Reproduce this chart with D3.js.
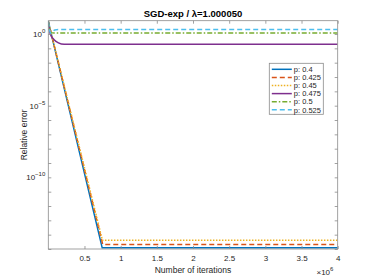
<!DOCTYPE html>
<html>
<head>
<meta charset="utf-8">
<script src="https://cdn.jsdelivr.net/npm/d3@7"></script>
<style>
body { margin: 0; background: #fff; }
svg { display: block; font-family: "Liberation Sans", Arial, sans-serif; }
</style>
</head>
<body>
<svg id="chart" width="374" height="280"></svg>
<script>
// values: [iterations, relative error]
var seriesNames = ['p: 0.4', 'p: 0.425', 'p: 0.45', 'p: 0.475', 'p: 0.5', 'p: 0.525'];
var p0400 = [[0, 7.5], [745000, 1.2e-15], [4000000, 1.2e-15]];
var p0425 = [[0, 7.5], [752000, 2.1e-15], [4000000, 2.1e-15]];
var p0450 = [[0, 7.5], [748000, 4.0e-15], [4000000, 4.0e-15]];
var p0475 = [[0, 7.5], [25000, 1.1], [80000, 0.4], [140000, 0.24], [220000, 0.19], [4000000, 0.19]];
var p0500 = [[0, 7.5], [30000, 1.3], [80000, 1.17], [4000000, 1.17]];
var p0525 = [[0, 7.5], [35000, 1.1], [90000, 1.9], [150000, 2.05], [4000000, 2.05]];
var seriesData = [p0400, p0425, p0450, p0475, p0500, p0525];

var xTicks = [500000, 1000000, 1500000, 2000000, 2500000, 3000000, 3500000, 4000000];
var xTickLabels = ['0.5', '1', '1.5', '2', '2.5', '3', '3.5', '4'];
var yTicks = [1e-15, 1e-14, 1e-13, 1e-12, 1e-11, 1e-10, 1e-9, 1e-8, 1e-7, 1e-6, 1e-5, 1e-4, 1e-3, 1e-2, 1e-1, 1e0];
var yLabelExps = [0, -5, -10];

var colors = ['#0072BD', '#D95319', '#EDB120', '#7E2F8E', '#77AC30', '#4DBEEE'];
var dashes = [null, '5,3', '1.5,1.5', null, '5,2,1.5,2', '5,3'];

var svg = d3.select('#chart');
var padding = [20.7, 36.3, 31, 48.3]; // top right bottom left
var W = 374, H = 280;
var x0 = padding[3], x1 = W - padding[1], y0 = padding[0], y1 = H - padding[2];
var axisColor = '#262626';
var boxColor = '#8a8a8a';

var xScale = d3.scaleLinear().domain([0, 4000000]).range([x0, x1]);
var yScale = d3.scaleLog().domain([1e-15, 8.5]).range([y1, y0]);

// plot area clip
svg.append('clipPath').attr('id', 'clip')
    .append('rect').attr('x', x0).attr('y', y0).attr('width', x1 - x0).attr('height', y1 - y0);

// lines: the fast-decaying runs are straight in log scale, the others bend smoothly
var lineStraight = d3.line()
    .x(function (d) { return xScale(d[0]); })
    .y(function (d) { return yScale(d[1]); });
var lineSmooth = d3.line()
    .x(function (d) { return xScale(d[0]); })
    .y(function (d) { return yScale(d[1]); })
    .curve(d3.curveMonotoneX);

var linesG = svg.append('g').attr('clip-path', 'url(#clip)');
seriesData.forEach(function (d, i) {
    linesG.append('path')
        .attr('d', i < 3 ? lineStraight(d) : lineSmooth(d))
        .attr('fill', 'none')
        .attr('stroke', colors[i])
        .attr('stroke-width', 1.5)
        .attr('stroke-dasharray', dashes[i]);
});

// axes (ticks inward, box on)
function styleAxis(g) {
    g.select('.domain').remove();
    g.selectAll('line').attr('stroke', boxColor).attr('stroke-width', 0.8);
    g.selectAll('text').attr('fill', axisColor).attr('font-size', 8);
}
var tl = 3;
var xb = svg.append('g').attr('transform', 'translate(0,' + y1 + ')')
    .call(d3.axisBottom(xScale).tickValues(xTicks).tickSizeInner(-tl).tickSizeOuter(0).tickPadding(6)
        .tickFormat(function (d, i) { return xTickLabels[i]; }));
styleAxis(xb);
var xt = svg.append('g').attr('transform', 'translate(0,' + y0 + ')')
    .call(d3.axisTop(xScale).tickValues(xTicks).tickSizeInner(-tl).tickSizeOuter(0).tickFormat(''));
styleAxis(xt);
var yl = svg.append('g').attr('transform', 'translate(' + x0 + ',0)')
    .call(d3.axisLeft(yScale).tickValues(yTicks).tickSizeInner(-tl).tickSizeOuter(0).tickPadding(4)
        .tickFormat(''));
styleAxis(yl);
var yr = svg.append('g').attr('transform', 'translate(' + x1 + ',0)')
    .call(d3.axisRight(yScale).tickValues(yTicks).tickSizeInner(-tl).tickSizeOuter(0).tickFormat(''));
styleAxis(yr);

// y tick labels with exponents
yLabelExps.forEach(function (e) {
    var t = svg.append('text')
        .attr('x', x0 - 3)
        .attr('y', yScale(Math.pow(10, e)) + 3)
        .attr('text-anchor', 'end')
        .attr('fill', axisColor)
        .attr('font-size', 8);
    t.append('tspan').text('10');
    t.append('tspan').attr('font-size', 6).attr('dy', -4).text(String(e).replace('-', '\u2212'));
});

// box
svg.append('rect')
    .attr('x', x0).attr('y', y0).attr('width', x1 - x0).attr('height', y1 - y0)
    .attr('fill', 'none').attr('stroke', boxColor).attr('stroke-width', 0.8);

// title
svg.append('text')
    .attr('x', (x0 + x1) / 2).attr('y', 16.5)
    .attr('text-anchor', 'middle')
    .attr('font-size', 9.5).attr('font-weight', 'bold').attr('fill', '#000')
    .text('SGD-exp /  \u03bb=1.000050');

// axis labels
svg.append('text')
    .attr('x', (x0 + x1) / 2).attr('y', 273)
    .attr('text-anchor', 'middle').attr('font-size', 8.5).attr('fill', axisColor)
    .text('Number of iterations');
svg.append('text')
    .attr('transform', 'translate(27,' + ((y0 + y1) / 2) + ') rotate(-90)')
    .attr('text-anchor', 'middle').attr('font-size', 8.5).attr('fill', axisColor)
    .text('Relative error');
var mult = svg.append('text')
    .attr('x', 316.5).attr('y', 274.5)
    .attr('font-size', 8).attr('fill', axisColor);
mult.append('tspan').text('\u00d710');
mult.append('tspan').attr('font-size', 6).attr('dy', -4).text('6');

// legend
var lgX = 269.3, lgY = 63.3, lgW = 54, lgH = 51, lgStep = 8.1;
var legendG = svg.append('g');
legendG.append('rect')
    .attr('x', lgX).attr('y', lgY).attr('width', lgW).attr('height', lgH)
    .attr('fill', '#fff').attr('stroke', boxColor).attr('stroke-width', 0.8);
seriesNames.forEach(function (name, i) {
    var yy = lgY + 6 + i * lgStep;
    legendG.append('line')
        .attr('x1', lgX + 2.5).attr('x2', lgX + 22.5)
        .attr('y1', yy).attr('y2', yy)
        .attr('stroke', colors[i]).attr('stroke-width', 1.5)
        .attr('stroke-dasharray', dashes[i]);
    legendG.append('text')
        .attr('x', lgX + 24.5).attr('y', yy + 2.7)
        .attr('font-size', 7.5).attr('fill', axisColor)
        .text(name);
});
</script>
</body>
</html>
